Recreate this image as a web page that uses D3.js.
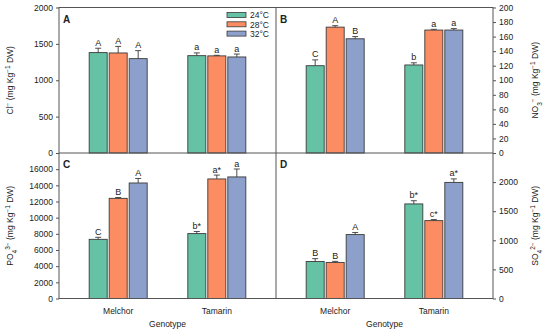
<!DOCTYPE html>
<html>
<head>
<meta charset="utf-8">
<script src="https://cdn.jsdelivr.net/npm/d3@7"></script>
<style>
  body { margin: 0; background: #fff; }
  text { font-family: "Liberation Sans", Arial, sans-serif; fill: #222; }
</style>
</head>
<body>
<div id="chart"></div>
<script>
// data
const genotypes = ["Melchor", "Tamarin"];
const temps = ["24°C", "28°C", "32°C"];
const colors = ["#66c2a5", "#fc8d62", "#8da0cb"];

// A: chloride
const clValues = [[1380, 1375, 1297], [1338, 1335, 1320]];
const clErrors = [[60, 90, 110], [38, 8, 40]];
const clLetters = [["A", "A", "A"], ["a", "a", "a"]];
const clTicks = [0, 500, 1000, 1500, 2000];

// B: nitrate
const no3Values = [[120, 173, 157], [121, 169, 169]];
const no3Errors = [[8, 2, 3], [3, 1, 2]];
const no3Letters = [["C", "A", "B"], ["b", "a", "a"]];
const no3Ticks = [0, 20, 40, 60, 80, 100, 120, 140, 160, 180, 200];

// C: phosphate
const po4Values = [[7320, 12390, 14290], [8030, 14790, 15040]];
const po4Errors = [[250, 100, 560], [260, 480, 980]];
const po4Letters = [["C", "B", "A"], ["b*", "a*", "a"]];
const po4Ticks = [0, 2000, 4000, 6000, 8000, 10000, 12000, 14000, 16000];

// D: sulphate
const so4Values = [[635, 620, 1098], [1625, 1338, 1995]];
const so4Errors = [[50, 18, 35], [55, 18, 60]];
const so4Letters = [["B", "B", "A"], ["b*", "c*", "a*"]];
const so4Ticks = [0, 500, 1000, 1500, 2000];

const W = 550, H = 332;
const fLeft = 59, fMid = 276, fRight = 493;
const fTop = 7.5, fMidY = 153, fBottom = 298.5;

const svg = d3.select("#chart")
    .append("svg")
    .attr("width", W)
    .attr("height", H);

// category and series scales (shared)
const pw = fMid - fLeft;
const x = d3.scalePoint()
    .domain(genotypes)
    .range([0, pw])
    .padding(0.6);
const xs = d3.scaleBand()
    .domain(temps)
    .range([-29, 29])
    .paddingInner(0.1);

function drawPanel(p) {
    const g = svg.append("g")
        .attr("transform", `translate(${p.x0}, ${p.y0})`);
    const h = p.y1 - p.y0;

    const y = d3.scaleLinear()
        .domain([0, p.max])
        .range([h, 0]);

    // bars
    const groups = g.selectAll("g.grp")
        .data(p.values)
        .join("g")
        .attr("class", "grp")
        .attr("transform", (d, i) => `translate(${x(genotypes[i])}, 0)`);

    const cells = groups.selectAll("g.cell")
        .data((d, i) => d.map((v, j) => ({v: v, e: p.errors[i][j], l: p.letters[i][j], t: temps[j], j: j})))
        .join("g")
        .attr("class", "cell");

    cells.append("rect")
        .attr("x", d => xs(d.t))
        .attr("y", d => y(d.v))
        .attr("width", xs.bandwidth())
        .attr("height", d => h - y(d.v))
        .attr("fill", d => colors[d.j])
        .attr("stroke", "#3a3a3a")
        .attr("stroke-width", 0.9);

    // error bars (upper only)
    cells.append("line")
        .attr("x1", d => xs(d.t) + xs.bandwidth() / 2)
        .attr("x2", d => xs(d.t) + xs.bandwidth() / 2)
        .attr("y1", d => y(d.v))
        .attr("y2", d => y(d.v + d.e))
        .attr("stroke", "#3a3a3a")
        .attr("stroke-width", 0.9);
    cells.append("line")
        .attr("x1", d => xs(d.t) + xs.bandwidth() / 2 - 3)
        .attr("x2", d => xs(d.t) + xs.bandwidth() / 2 + 3)
        .attr("y1", d => y(d.v + d.e))
        .attr("y2", d => y(d.v + d.e))
        .attr("stroke", "#3a3a3a")
        .attr("stroke-width", 0.9);

    // significance letters
    cells.append("text")
        .attr("x", d => xs(d.t) + xs.bandwidth() / 2)
        .attr("y", d => y(d.v + d.e) - 2.5)
        .attr("text-anchor", "middle")
        .style("font-size", "9px")
        .text(d => d.l);

    // panel letter
    g.append("text")
        .attr("x", 4)
        .attr("y", 15)
        .style("font-size", "10px")
        .style("font-weight", "bold")
        .text(p.name);

    // y axis
    const axis = (p.side === "left" ? d3.axisLeft(y) : d3.axisRight(y))
        .tickValues(p.ticks)
        .tickSize(3)
        .tickPadding(3)
        .tickFormat(d3.format("d"));
    const ax = g.append("g")
        .attr("transform", p.side === "left" ? "translate(0,0)" : `translate(${pw},0)`)
        .call(axis);
    ax.select(".domain").remove();
    ax.selectAll("line").attr("stroke", "#555");
    ax.selectAll("text")
        .style("font-size", "8.5px")
        .style("font-family", "Liberation Sans, Arial, sans-serif")
        .attr("fill", "#222");

    // y title
    const tx = p.side === "left" ? 13 - p.x0 : 538 - p.x0;
    const title = g.append("text")
        .attr("transform", `translate(${tx}, ${h / 2}) rotate(-90)`)
        .attr("text-anchor", "middle")
        .style("font-size", "8.5px");
    p.title.forEach(s => {
        const ts = title.append("tspan").text(s[0]);
        if (s[1] === "sup") ts.attr("baseline-shift", "super").style("font-size", "6.5px");
        if (s[1] === "sub") ts.attr("baseline-shift", "sub").style("font-size", "6.5px");
    });
}

drawPanel({name: "A", x0: fLeft, y0: fTop, y1: fMidY, max: 2000, ticks: clTicks, side: "left",
    values: clValues, errors: clErrors, letters: clLetters,
    title: [["Cl"], ["−", "sup"], [" (mg Kg"], ["−1", "sup"], [" DW)"]]});
drawPanel({name: "B", x0: fMid, y0: fTop, y1: fMidY, max: 200, ticks: no3Ticks, side: "right",
    values: no3Values, errors: no3Errors, letters: no3Letters,
    title: [["NO"], ["3", "sub"], ["−", "sup"], [" (mg Kg"], ["−1", "sup"], [" DW)"]]});
drawPanel({name: "C", x0: fLeft, y0: fMidY, y1: fBottom, max: 18000, ticks: po4Ticks, side: "left",
    values: po4Values, errors: po4Errors, letters: po4Letters,
    title: [["PO"], ["4", "sub"], ["3−", "sup"], [" (mg Kg"], ["−1", "sup"], [" DW)"]]});
drawPanel({name: "D", x0: fMid, y0: fMidY, y1: fBottom, max: 2500, ticks: so4Ticks, side: "right",
    values: so4Values, errors: so4Errors, letters: so4Letters,
    title: [["SO"], ["4", "sub"], ["2−", "sup"], [" (mg Kg"], ["−1", "sup"], [" DW)"]]});

// frame lines
const frame = svg.append("g")
    .attr("stroke", "#555")
    .attr("stroke-width", 1)
    .attr("fill", "none");
frame.append("rect")
    .attr("x", fLeft)
    .attr("y", fTop)
    .attr("width", fRight - fLeft)
    .attr("height", fBottom - fTop);
frame.append("line")
    .attr("x1", fMid).attr("x2", fMid)
    .attr("y1", fTop).attr("y2", fBottom);
frame.append("line")
    .attr("x1", fLeft).attr("x2", fRight)
    .attr("y1", fMidY).attr("y2", fMidY);

// genotype labels under both bottom panels
[fLeft, fMid].forEach(x0 => {
    svg.append("g")
        .selectAll("text")
        .data(genotypes)
        .join("text")
        .attr("x", d => x0 + x(d))
        .attr("y", 314)
        .attr("text-anchor", "middle")
        .style("font-size", "8.5px")
        .text(d => d);
    svg.append("text")
        .attr("x", x0 + pw / 2)
        .attr("y", 327)
        .attr("text-anchor", "middle")
        .style("font-size", "8.5px")
        .text("Genotype");
});

// legend
const legend = svg.append("g")
    .selectAll("g")
    .data(temps)
    .join("g")
    .attr("transform", (d, i) => `translate(227, ${15 + i * 9.3})`);
legend.append("rect")
    .attr("x", 0)
    .attr("y", -2.5)
    .attr("width", 19)
    .attr("height", 5)
    .attr("fill", (d, i) => colors[i])
    .attr("stroke", "#3a3a3a")
    .attr("stroke-width", 0.8);
legend.append("text")
    .attr("x", 23)
    .attr("y", 3.2)
    .style("font-size", "8.5px")
    .text(d => d);
</script>
</body>
</html>
